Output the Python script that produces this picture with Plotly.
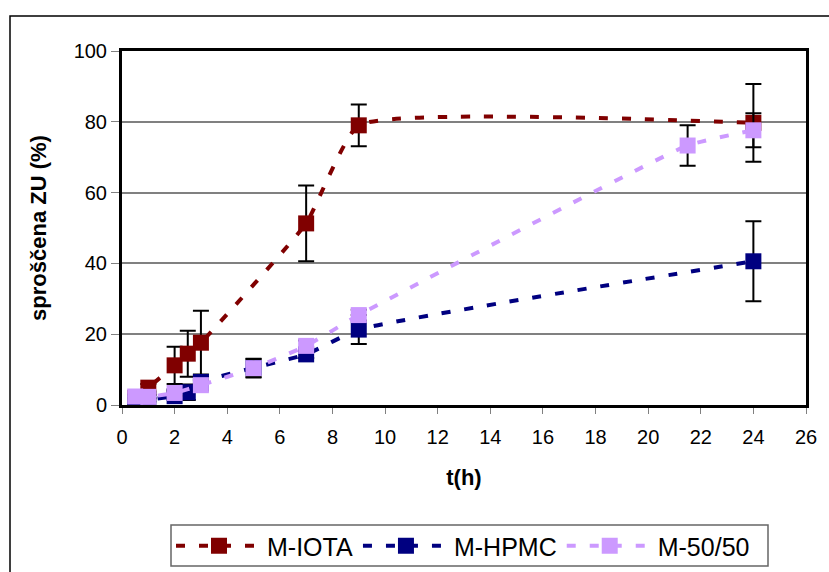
import plotly.graph_objects as go

# Release profiles: time (h), released amount (%) and standard deviation
t_iota = [0.5, 1, 2, 2.5, 3, 7, 9, 24]
y_iota = [2.0, 4.9, 11.2, 14.5, 17.6, 51.3, 79.0, 79.7]
e_iota = [1.0, 1.0, 5.25, 6.5, 9.0, 10.7, 5.9, 11.0]

t_hpmc = [0.5, 1, 2, 2.5, 3, 5, 7, 9, 24]
y_hpmc = [0.8, 1.5, 2.5, 3.6, 6.5, 10.5, 14.3, 21.3, 40.6]
e_hpmc = [0.5, 0.5, 1.0, 2.2, 1.5, 2.6, 1.0, 4.1, 11.3]

t_mix = [0.5, 1, 2, 3, 5, 7, 9, 21.5, 24]
y_mix = [2.4, 2.3, 3.4, 5.6, 10.4, 16.7, 25.4, 73.3, 77.6]
e_mix = [0.5, 0.5, 0.8, 1.5, 2.6, 1.5, 1.5, 5.7, 4.8]

names = ["M-IOTA", "M-HPMC", "M-50/50"]
colors = ["#800000", "#000080", "#CC99FF"]

x_ticks = list(range(0, 27, 2))
y_ticks = list(range(0, 101, 20))

FONT = "Liberation Sans, Arial, sans-serif"

W, H = 829, 572
L, R, T, B = 122, 23, 51, 167

fig = go.Figure()
for t, y, e, name, col in zip(
    [t_iota, t_hpmc, t_mix], [y_iota, y_hpmc, y_mix], [e_iota, e_hpmc, e_mix], names, colors
):
    fig.add_trace(
        go.Scatter(
            x=t, y=y, name=name, mode="lines+markers",
            line=dict(color=col, width=4, dash="9px,14px", shape="spline", smoothing=0.4),
            marker=dict(symbol="square", size=16, color=col),
            error_y=dict(type="data", array=e, visible=True, color="black", thickness=2, width=8),
        )
    )

# px -> paper helpers for the frames drawn outside the plot area
pw, ph = W - L - R, H - T - B
def px_x(p):
    return (p - L) / pw
def px_y(p):
    return (H - B - p) / ph

# outer chart frame
fig.add_shape(type="rect", xref="paper", yref="paper",
              x0=px_x(10), x1=px_x(W + 20), y0=px_y(16), y1=px_y(H + 20),
              line=dict(color="black", width=1.5), fillcolor="rgba(0,0,0,0)", layer="below")
# legend box
fig.add_shape(type="rect", xref="paper", yref="paper",
              x0=px_x(171), x1=px_x(768), y0=px_y(525), y1=px_y(566),
              line=dict(color="#666666", width=1.5), fillcolor="rgba(0,0,0,0)", layer="below")

fig.update_layout(
    width=W, height=H,
    margin=dict(l=L, r=R, t=T, b=B, autoexpand=False),
    paper_bgcolor="white", plot_bgcolor="white",
    font=dict(family=FONT, color="black", size=20),
    showlegend=True,
    legend=dict(
        orientation="h", xref="container", yref="container",
        x=171 / W, y=1 - 546 / H, xanchor="left", yanchor="middle",
        borderwidth=0, bgcolor="rgba(0,0,0,0)",
        font=dict(size=25, family=FONT), itemwidth=86, tracegroupgap=0,
    ),
    xaxis=dict(
        range=[0, 26], tickvals=x_ticks, ticks="outside", ticklen=6, tickcolor="#808080",
        showline=True, linecolor="black", linewidth=3, mirror=True, showgrid=False, zeroline=False,
        title=dict(text="<b>t(h)</b>", font=dict(size=22), standoff=23),
        tickfont=dict(size=20), ticklabelstandoff=6, automargin=False,
    ),
    yaxis=dict(
        range=[0, 100], tickvals=y_ticks, ticks="outside", ticklen=8, tickcolor="#808080",
        showline=True, linecolor="black", linewidth=3, mirror=True,
        showgrid=True, gridcolor="#808080", gridwidth=1.5, zeroline=False,
        title=dict(text="<b>sproščena ZU (%)</b>", font=dict(size=22), standoff=21),
        tickfont=dict(size=20), automargin=False,
    ),
)

fig.write_html("out.html")
